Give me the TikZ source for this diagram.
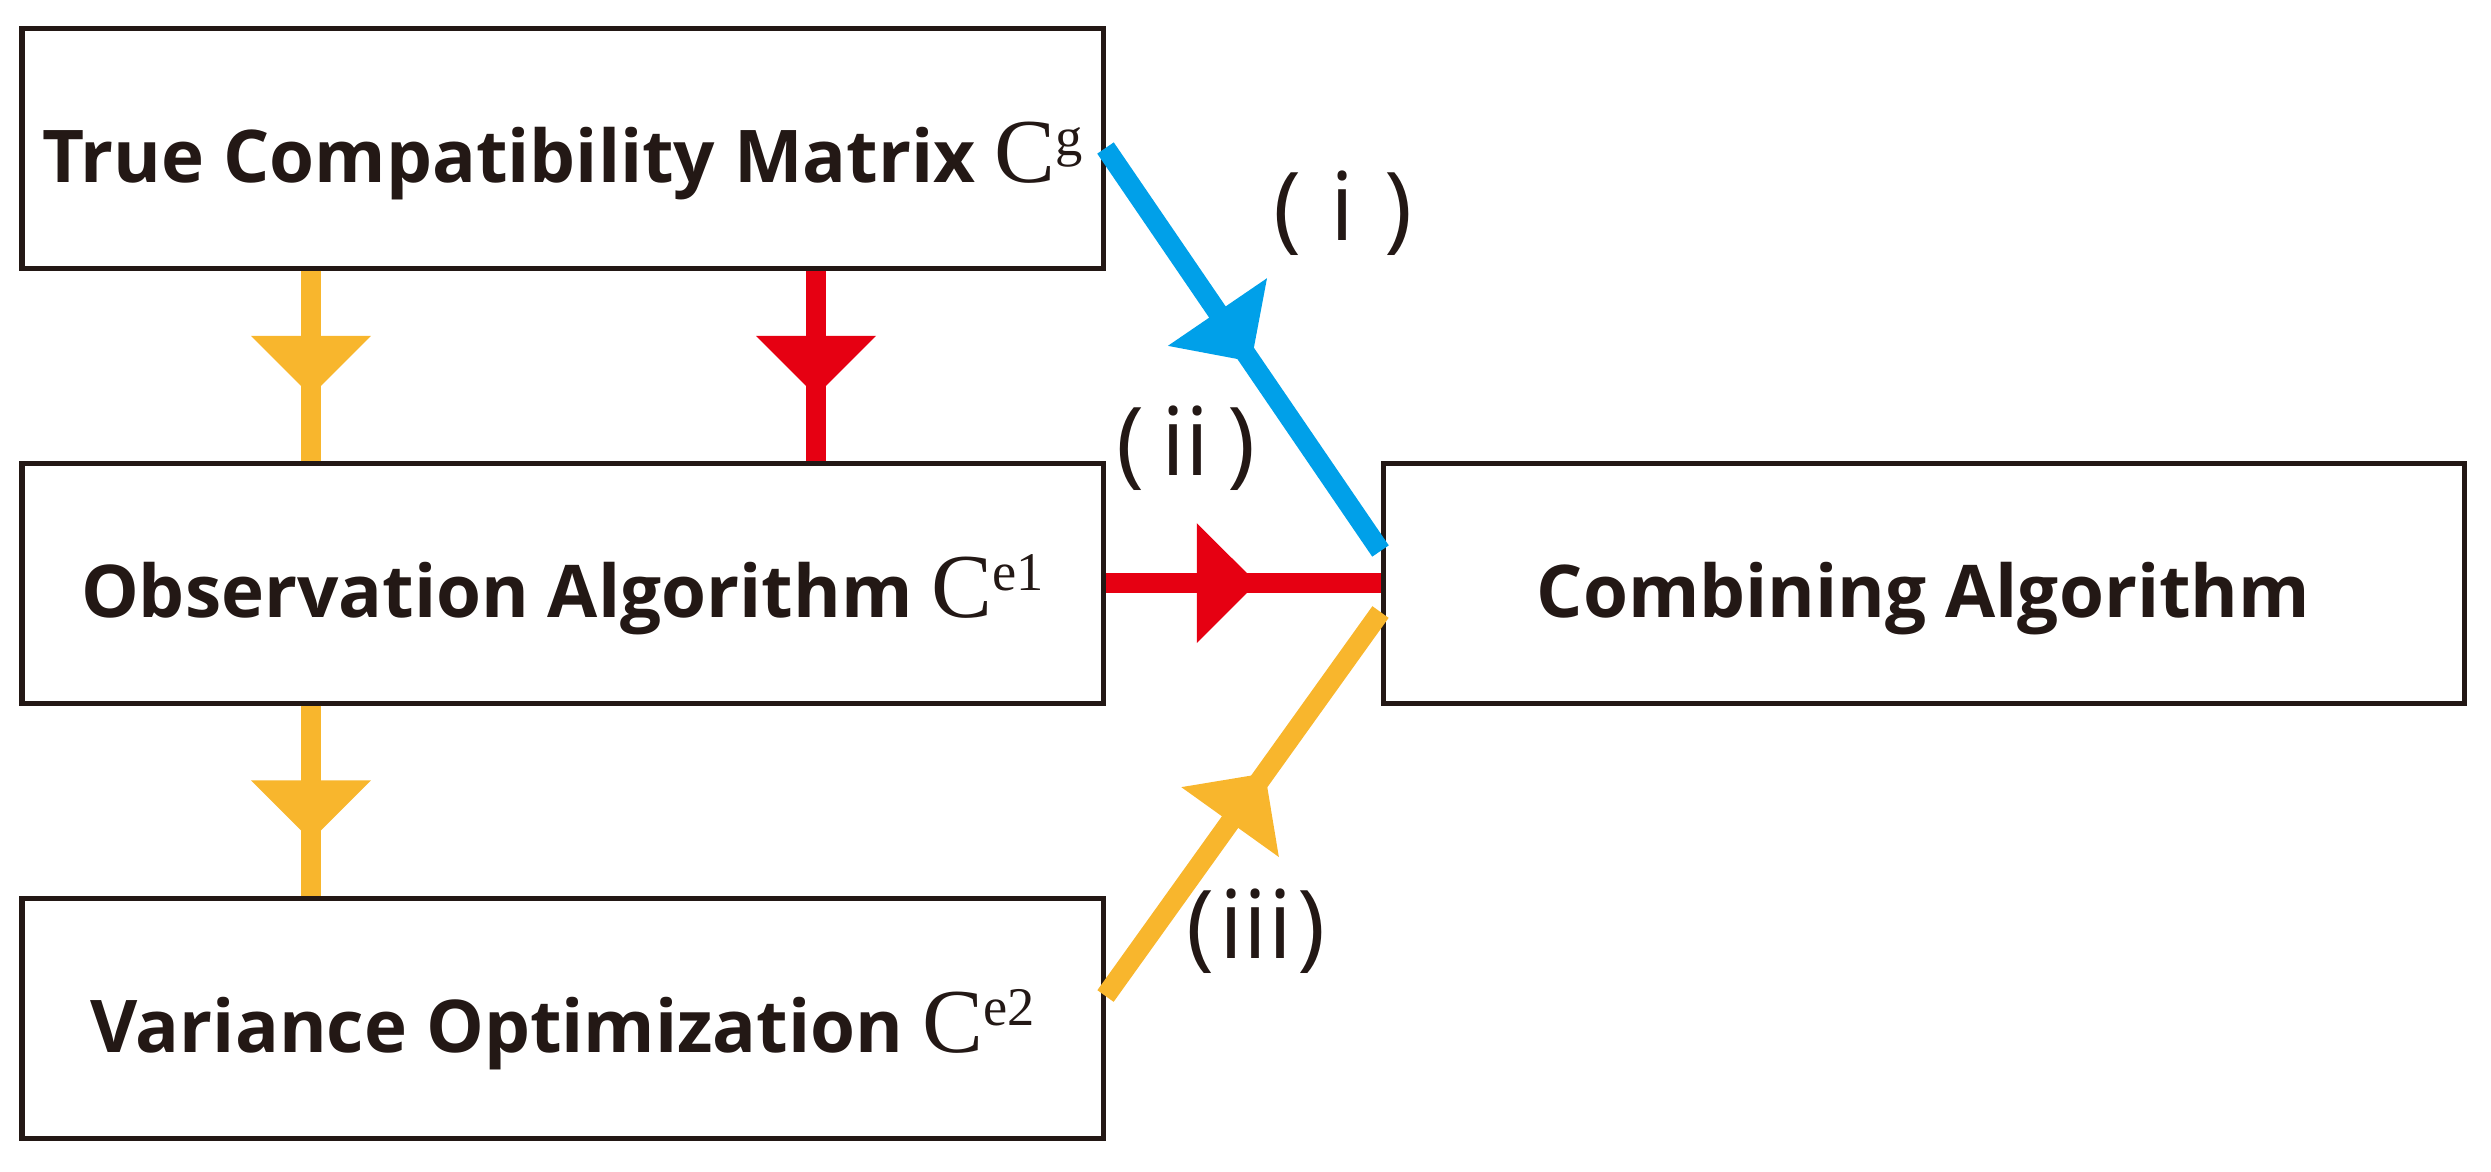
\documentclass[tikz,border=0pt]{standalone}
\usepackage{fontspec}
\setmainfont{Open Sans}
\newfontfamily\timesfont{Liberation Serif}
\usetikzlibrary{arrows.meta, positioning, decorations.markings}

\definecolor{ink}{HTML}{231815}
\definecolor{fyellow}{HTML}{F8B62D}
\definecolor{fred}{HTML}{E60012}
\definecolor{fblue}{HTML}{00A0E9}

\newcommand{\matC}[1]{{\timesfont\fontsize{26}{26}\selectfont\mdseries C\raisebox{0.27cm}{\fontsize{15.5}{15.5}\selectfont #1}}}

\tikzset{
    box/.style={draw=ink, line width=0.05cm, minimum width=10.81cm, minimum height=2.4cm,
        inner sep=0pt, text height=0.68cm, text depth=0cm, text=ink,
        font=\fontsize{20.7}{24}\selectfont\bfseries},
    flow/.style={line width=0.2cm},
    midarrow/.style={postaction={decorate}, decoration={markings,
        mark=at position #1 with {\arrow{Triangle[length=0.6cm, width=1.2cm, line width=0pt]}}}},
    tag/.style={font=\fontsize{27}{27}\selectfont, text=ink, inner sep=0pt},
}

\begin{document}
\begin{tikzpicture}
    \useasboundingbox (0,0) rectangle (24.91,-11.71);

    \node (true) [box] at (5.625,-1.48) {True Compatibility Matrix \matC{g}};
    \node (obs) [box, below=1.9cm of true] {Observation Algorithm \matC{e1}\hspace{0.6cm}};
    \node (var) [box, below=1.9cm of obs] {Variance Optimization \matC{e2}\hspace{0.65cm}};
    \node (comb) [box, right=2.75cm of obs] {Combining Algorithm\hspace{0.6cm}};

    \draw [flow, draw=fyellow, midarrow=0.66] ([xshift=-2.515cm]true.south) -- ([xshift=-2.515cm]obs.north);
    \draw [flow, draw=fred, midarrow=0.66] ([xshift=2.535cm]true.south) -- ([xshift=2.535cm]obs.north);
    \draw [flow, draw=fyellow, midarrow=0.71] ([xshift=-2.515cm]obs.south) -- ([xshift=-2.515cm]var.north);
    \draw [flow, draw=fblue, midarrow=0.53] (true.east) -- ([yshift=0.32cm]comb.west);
    \draw [flow, draw=fred, midarrow=0.55] (obs.east) -- (comb.west);
    \draw [flow, draw=fyellow, midarrow=0.58] ([yshift=0.22cm]var.east) -- ([yshift=-0.29cm]comb.west);

    \node (tag1) [tag] at (13.43,-2.13) {\makebox[1.4cm]{(\hfill i\hfill)}};
    \node (tag2) [tag] at (11.86,-4.48) {\makebox[1.4cm]{(\hfill ii\hfill)}};
    \node (tag3) [tag] at (12.56,-9.31) {\makebox[1.4cm]{(\hfill iii\hfill)}};
\end{tikzpicture}
\end{document}
